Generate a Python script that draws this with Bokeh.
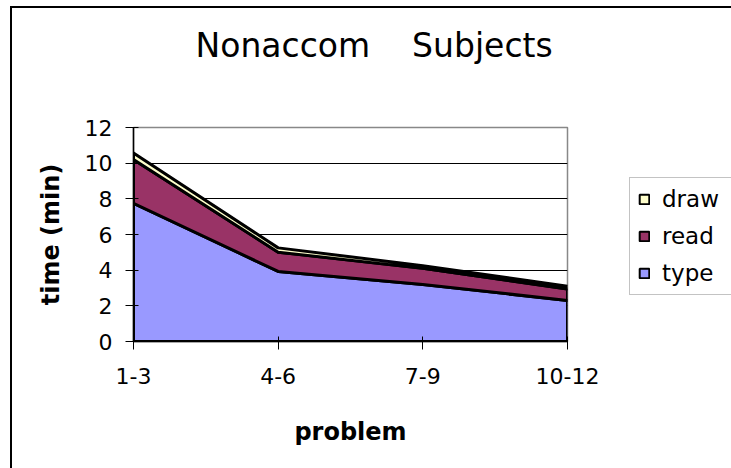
from bokeh.plotting import figure
from bokeh.models import Range1d, FixedTicker, Legend, LegendItem, Label
from bokeh.layouts import column, row
from bokeh.embed import file_html
from bokeh.resources import INLINE

categories = ["1-3", "4-6", "7-9", "10-12"]
type_vals = [7.75, 3.93, 3.2, 2.3]
read_vals = [2.45, 1.08, 0.9, 0.65]
draw_vals = [0.37, 0.24, 0.15, 0.15]
series_names = ["type", "read", "draw"]
series_colors = ["#9999FF", "#993366", "#FFFFCC"]
y_ticks = [0, 2, 4, 6, 8, 10, 12]
grid_ticks = [2, 4, 6, 8, 10]
title_text = "Nonaccom\u00a0\u00a0\u00a0\u00a0Subjects"

FONT = "DejaVu Sans"
xs = list(range(len(categories)))
NAN = float("nan")


def bare(fig):
    fig.axis.visible = False
    fig.grid.visible = False
    fig.outline_line_color = None
    fig.background_fill_color = "white"
    fig.border_fill_color = "white"
    fig.min_border = 0


# ---- title strip ----
tfig = figure(width=719, height=100, output_backend="svg", toolbar_location=None,
              x_range=Range1d(0, 719), y_range=Range1d(0, 100))
bare(tfig)
tfig.add_layout(Label(x=183, y=63, text=title_text, text_font=FONT,
                      text_font_size="33px", text_align="left",
                      text_baseline="alphabetic", text_color="black"))

# ---- main chart ----
p = figure(width=600, height=360, output_backend="svg", toolbar_location=None,
           x_range=Range1d(xs[0], xs[-1]), y_range=Range1d(y_ticks[0], y_ticks[-1]),
           min_border_left=121, min_border_right=45, min_border_top=19,
           min_border_bottom=127)
p.background_fill_color = "white"
p.border_fill_color = "white"
p.outline_line_color = "#888888"
p.outline_line_width = 1.5

# ---- legend strip ----
lfig = figure(width=119, height=360, output_backend="svg", toolbar_location=None,
              x_range=Range1d(0, 1), y_range=Range1d(0, 1))
bare(lfig)

base = [0.0] * len(xs)
legend_items = []
for name, vals, col in zip(series_names, [type_vals, read_vals, draw_vals], series_colors):
    top = [b + v for b, v in zip(base, vals)]
    px = xs + xs[::-1]
    py = top + base[::-1]
    p.patch(px, py, fill_color=col, line_color="black", line_width=3, line_join="round")
    swatch = lfig.patch([NAN], [NAN], fill_color=col, line_color="black", line_width=2)
    legend_items.append(LegendItem(label=name, renderers=[swatch]))
    base = top

# grid
p.xgrid.visible = False
p.ygrid.grid_line_color = "black"
p.ygrid.grid_line_width = 1
p.ygrid.ticker = FixedTicker(ticks=grid_ticks)

# axes
p.yaxis.ticker = FixedTicker(ticks=y_ticks)
p.xaxis.ticker = FixedTicker(ticks=xs)
p.xaxis.major_label_overrides = {i: c for i, c in enumerate(categories)}
for ax in (p.xaxis[0], p.yaxis[0]):
    ax.axis_line_color = "black"
    ax.axis_line_width = 1.5
    ax.major_tick_in = 5
    ax.major_tick_out = 8
    ax.major_tick_line_color = "black"
    ax.minor_tick_line_color = None
    ax.major_label_text_font = FONT
    ax.major_label_text_font_size = "22px"
    ax.major_label_text_color = "black"
    ax.axis_label_text_font = FONT
    ax.axis_label_text_font_size = "24px"
    ax.axis_label_text_font_style = "bold"
    ax.axis_label_text_color = "black"
p.xaxis.major_label_standoff = 18
p.yaxis.major_label_standoff = 13
p.xaxis.axis_label = "problem"
p.yaxis.axis_label = "time (min)"
p.xaxis.axis_label_standoff = 31
p.yaxis.axis_label_standoff = 17

legend = Legend(items=legend_items[::-1], location=(17, 46),
                label_text_font=FONT, label_text_font_size="23px",
                label_text_color="black",
                glyph_width=12, glyph_height=12, label_height=22,
                label_width=62, label_standoff=12, spacing=11, padding=8,
                border_line_color="#888888", border_line_width=1.5,
                background_fill_color="white", background_fill_alpha=1)
lfig.add_layout(legend, "center")

layout = column(tfig, row(p, lfig, spacing=0), spacing=0)
layout.styles = {"border-left": "2px solid black", "border-top": "2px solid black",
                 "margin-left": "10px", "margin-top": "6px"}

open("out.html", "w").write(file_html(layout, INLINE))
